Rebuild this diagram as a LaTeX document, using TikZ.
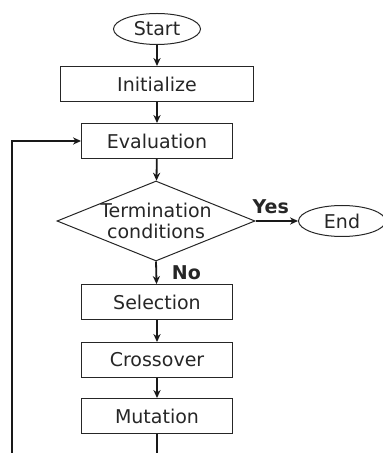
\documentclass[tikz,border=0pt]{standalone}
\usepackage{fontspec}
\setmainfont{DejaVu Sans}
\usetikzlibrary{arrows.meta, shapes.geometric}
\colorlet{inkline}{black!85}

\begin{document}
\begin{tikzpicture}[x=0.5pt, y=-0.5pt, >={Stealth[length=4pt, width=3.6pt]},
    font=\fontsize{9.5}{10.5}\selectfont, text=black!85,
    stepbox/.style={draw=inkline, line width=0.5pt, minimum height=17.5pt, inner sep=0pt},
    terminal/.style={ellipse, draw=inkline, line width=0.5pt, minimum width=43.5pt, minimum height=15.5pt, inner sep=0pt},
    flow/.style={->, draw=black!90, line width=0.9pt}]
    \clip (0,0) rectangle (383,453);

    \node[terminal] (start) at (157,29) {Start};
    \node[stepbox, minimum width=96.5pt] (init) at (157,84) {Initialize};
    \node[stepbox, minimum width=75.5pt] (eval) at (157,141) {Evaluation};
    \node[diamond, draw=inkline, line width=0.5pt, minimum width=99pt, minimum height=40pt, inner sep=0pt] (term) at (156,221) {};
    \node[align=center] at (term) {Termination\\conditions};
    \node[terminal] (end) at (342,221) {End};
    \node[stepbox, minimum width=75.5pt] (sel) at (157,302) {Selection};
    \node[stepbox, minimum width=75.5pt] (cross) at (157,360) {Crossover};
    \node[stepbox, minimum width=75.5pt] (mut) at (157,416) {Mutation};

    \draw[flow] (start) -- (init);
    \draw[flow] (init) -- (eval);
    \draw[flow] (eval) -- (term);
    \draw[flow] (term.east) -- node[above, xshift=-3pt, font=\fontsize{9.5}{10.5}\selectfont\bfseries] (yes) {Yes} (end);
    \draw[flow] (term.south) -- node[right=4pt, font=\fontsize{9.5}{10.5}\selectfont\bfseries] (no) {No} (sel);
    \draw[flow] (sel) -- (cross);
    \draw[flow] (cross) -- (mut);

    % loop back, runs off the bottom edge
    \coordinate (loop) at (12,480);
    \draw[flow] (mut.south) |- (loop) |- (eval.west);
\end{tikzpicture}
\end{document}
